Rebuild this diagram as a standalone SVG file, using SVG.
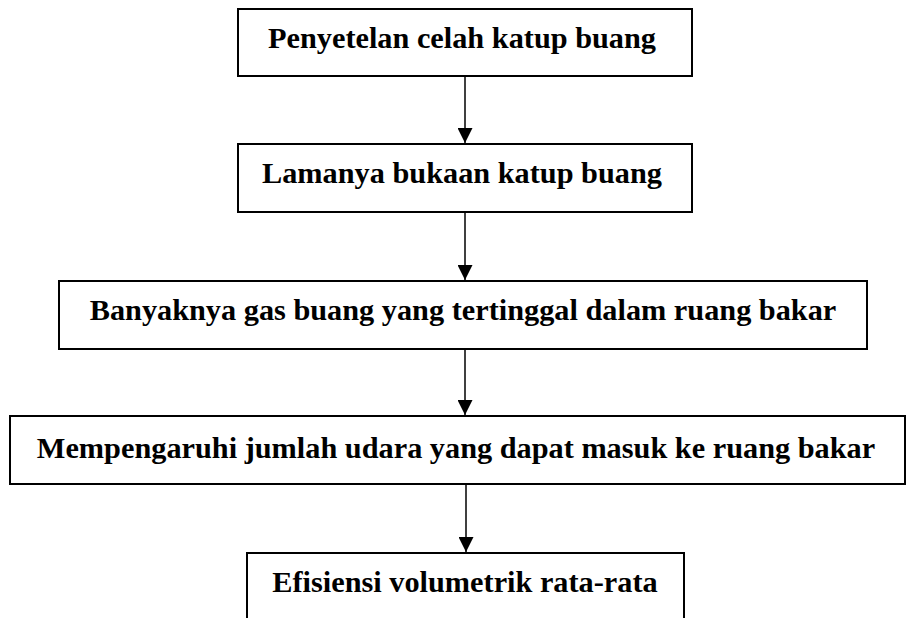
<svg xmlns="http://www.w3.org/2000/svg" width="907" height="618" viewBox="0 0 907 618">
<style>
.box{fill:#fff;stroke:#000;stroke-width:2}
.t{font-family:"Liberation Serif","Times New Roman",serif;font-weight:bold;font-size:30.3px;text-anchor:middle;fill:#000}
.c{stroke:#000;stroke-width:1.5;fill:none}
</style>
<defs>
<marker id="ah" markerUnits="userSpaceOnUse" markerWidth="15" markerHeight="15" refX="15" refY="7.5" orient="auto">
<path d="M0,0 L15,7.5 L0,15 Z" fill="#000"/>
</marker>
</defs>
<rect width="907" height="618" fill="#fff"/>
<g id="connectors">
<line class="c" x1="465" y1="76" x2="465" y2="143" marker-end="url(#ah)"/>
<line class="c" x1="465" y1="212" x2="465" y2="280" marker-end="url(#ah)"/>
<line class="c" x1="465" y1="349" x2="465" y2="415" marker-end="url(#ah)"/>
<line class="c" x1="466" y1="484" x2="466" y2="552" marker-end="url(#ah)"/>
</g>
<g id="n1">
<rect class="box" x="238" y="9" width="454" height="67"/>
<text class="t" x="462" y="48">Penyetelan celah katup buang</text>
</g>
<g id="n2">
<rect class="box" x="238" y="144" width="454" height="68"/>
<text class="t" x="462" y="183">Lamanya bukaan katup buang</text>
</g>
<g id="n3">
<rect class="box" x="59" y="281" width="808" height="68"/>
<text class="t" x="463" y="320">Banyaknya gas buang yang tertinggal dalam ruang bakar</text>
</g>
<g id="n4">
<rect class="box" x="10" y="416" width="895" height="68"/>
<text class="t" x="456" y="458">Mempengaruhi jumlah udara yang dapat masuk ke ruang bakar</text>
</g>
<g id="n5">
<rect class="box" x="247" y="553" width="437" height="80"/>
<text class="t" x="465" y="592">Efisiensi volumetrik rata-rata</text>
</g>
</svg>
